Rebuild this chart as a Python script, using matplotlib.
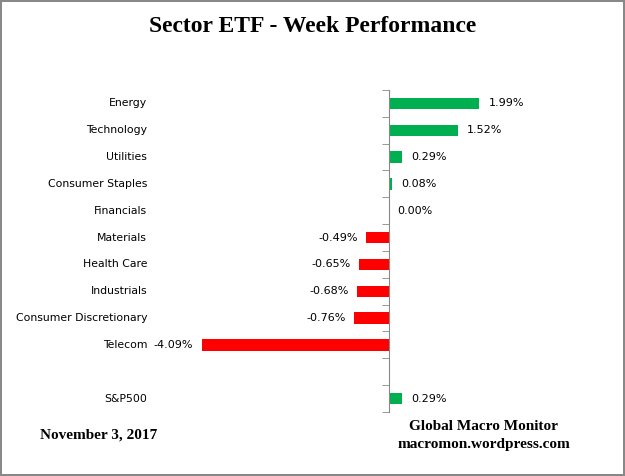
import matplotlib.pyplot as plt
from matplotlib.ticker import FixedLocator
import numpy as np

sectors = ["Energy", "Technology", "Utilities", "Consumer Staples", "Financials",
           "Materials", "Health Care", "Industrials", "Consumer Discretionary",
           "Telecom", "", "S&P500"]
week_perf = [1.99, 1.52, 0.29, 0.08, 0.00, -0.49, -0.65, -0.68, -0.76, -4.09, None, 0.29]

GREEN = "#00B050"
RED = "#FF0000"

fig = plt.figure(figsize=(6.25, 4.76), dpi=100)
fig.patch.set_edgecolor("#888888")
fig.patch.set_linewidth(1.5)
ax = fig.add_axes([0.256, 0.1345, 0.585, 0.6765])

pos = np.arange(len(sectors))
for i, (name, v) in enumerate(zip(sectors, week_perf)):
    if name:
        ax.text(-0.035, i, name, transform=ax.get_yaxis_transform(),
                ha="right", va="center", fontsize=7.8)
    if v is None:
        continue
    ax.barh(i, v, height=0.42, color=GREEN if v >= 0 else RED)
    if v >= 0:
        ax.text(v + 0.2, i, f"{v:.2f}%", ha="left", va="center", fontsize=8)
    else:
        ax.text(v - 0.18, i, f"{v:.2f}%", ha="right", va="center", fontsize=8)

ax.set_xlim(-5, 3)
ax.set_ylim(len(sectors) - 0.5, -0.5)

for s in ["top", "right", "bottom"]:
    ax.spines[s].set_visible(False)
ax.spines["left"].set_position(("data", 0))
ax.spines["left"].set_color("#888888")
ax.set_xticks([])
ax.set_yticks([])
ax.yaxis.set_minor_locator(FixedLocator(np.arange(-0.5, len(sectors), 1)))
ax.tick_params(axis="y", which="minor", length=5, color="#888888", direction="out")

fig.text(0.5, 0.945, "Sector ETF - Week Performance", ha="center", va="center",
         fontsize=17, fontweight="bold", family="Liberation Serif")
fig.text(0.064, 0.086, "November 3, 2017", ha="left", va="center",
         fontsize=11, fontweight="bold", family="Liberation Serif")
fig.text(0.774, 0.103, "Global Macro Monitor", ha="center", va="center",
         fontsize=11, fontweight="bold", family="Liberation Serif")
fig.text(0.774, 0.067, "macromon.wordpress.com", ha="center", va="center",
         fontsize=11, fontweight="bold", family="Liberation Serif")

fig.savefig("out.png", dpi=100, edgecolor=fig.get_edgecolor())
